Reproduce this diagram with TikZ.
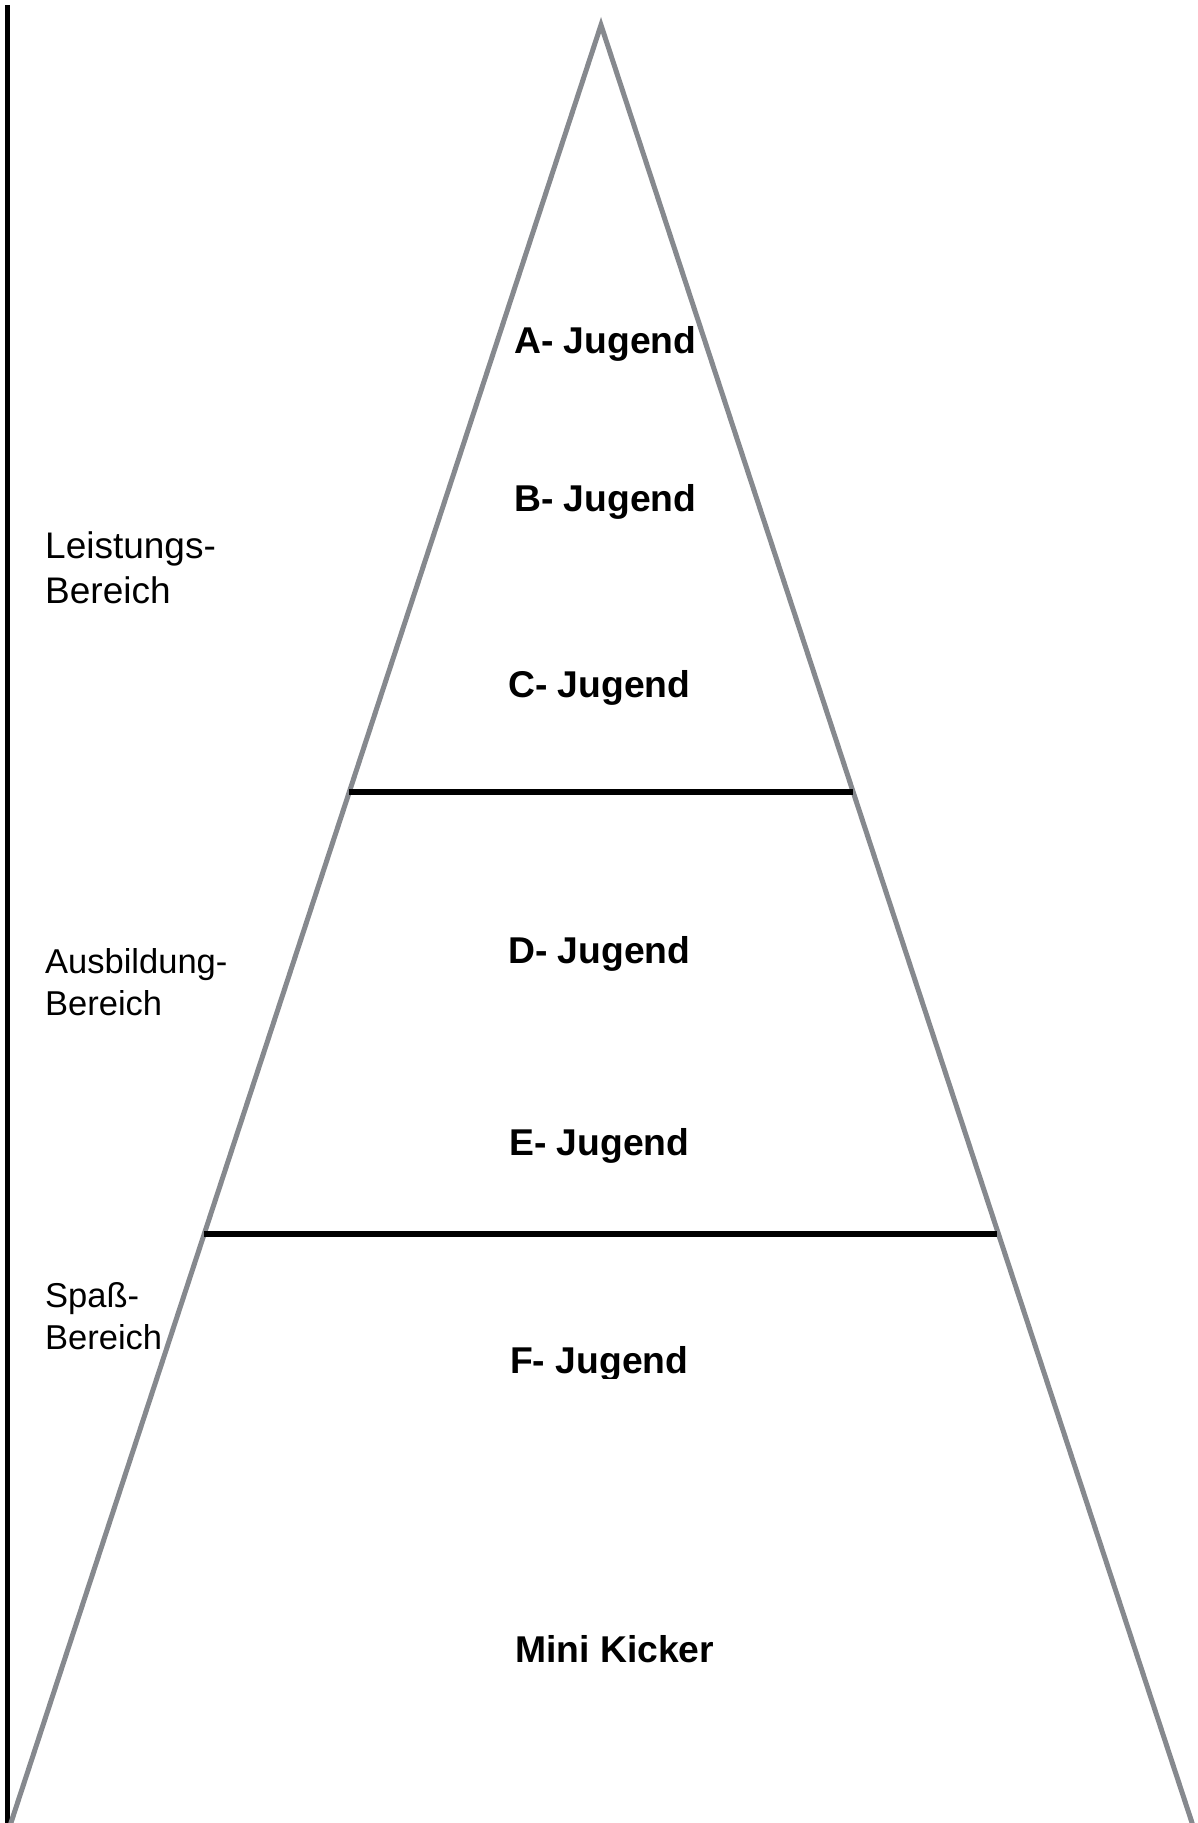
\documentclass[tikz,border=0pt]{standalone}
\usepackage{fontspec}
\setmainfont{Liberation Sans}
\begin{document}
\begin{tikzpicture}[x=1pt,y=-1pt,
  tri/.style={draw={rgb,255:red,134;green,137;blue,142}, line width=5pt, line join=miter},
  sep/.style={draw=black, line width=5.5pt},
  axis/.style={draw=black, line width=5pt},
  lvl/.style={inner sep=0pt, anchor=base west, font=\fontsize{37.3}{44}\selectfont\bfseries},
  side/.style={inner sep=0pt, anchor=base west, font=\fontsize{34.5}{41}\selectfont},
  sidebig/.style={inner sep=0pt, anchor=base west, font=\fontsize{37}{44}\selectfont}]
\useasboundingbox (0,0) rectangle (1197,1823);
\fill[white] (0,0) rectangle (1197,1823);
% vertical axis
\coordinate (vtop) at (7.5,5);
\coordinate (vbot) at (7.5,1830);
\draw[axis] (vtop) -- (vbot);
% pyramid
\coordinate (apex) at (601,25);
\coordinate (bl) at (8.6,1830);
\coordinate (br) at (1194.4,1830);
\draw[tri] (bl) -- (apex) -- (br);
% separators
\coordinate (s1l) at (349,792);
\coordinate (s1r) at (853,792);
\coordinate (s2l) at (204,1234);
\coordinate (s2r) at (997,1234);
\draw[sep] (s1l) -- (s1r);
\draw[sep] (s2l) -- (s2r);
% level labels
\node[lvl] (a) at (514,353) {A- Jugend};
\node[lvl] (b) at (514,511) {B- Jugend};
\node[lvl] (c) at (508,697) {C- Jugend};
\node[lvl] (d) at (508,963) {D- Jugend};
\node[lvl] (e) at (509,1155) {E- Jugend};
\begin{scope}
\clip (0,0) rectangle (1197,1378);
\node[lvl] (f) at (510,1373) {F- Jugend};
\end{scope}
\node[lvl] (m) at (515,1662) {Mini Kicker};
% side labels
\node[sidebig] (l1) at (45,558) {Leistungs-};
\node[sidebig] (l2) at (45,603) {Bereich};
\node[side] (a1) at (45,973) {Ausbildung-};
\node[side] (a2) at (45,1015) {Bereich};
\node[side] (p1) at (45,1307) {Spaß-};
\node[side] (p2) at (45,1349) {Bereich};
\end{tikzpicture}
\end{document}
